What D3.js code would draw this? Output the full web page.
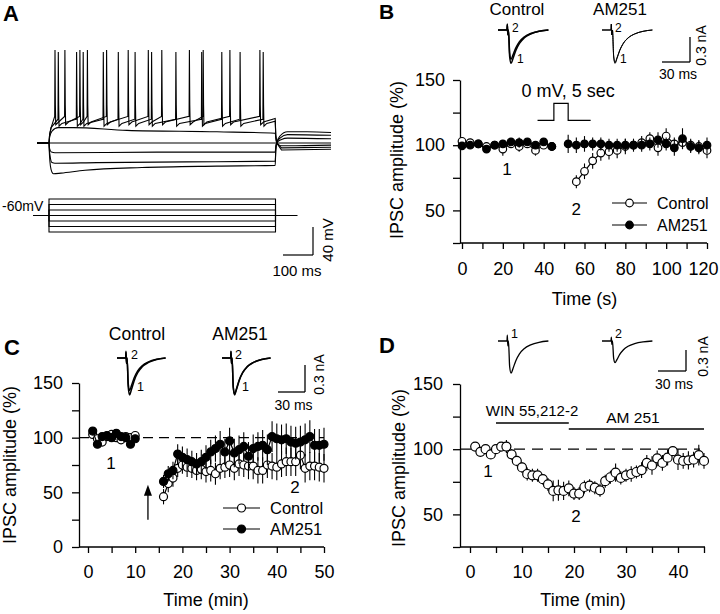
<!DOCTYPE html>
<html>
<head>
<meta charset="utf-8">
<script src="https://cdn.jsdelivr.net/npm/d3@7"></script>
<style>
body { margin: 0; background: #fff; }
svg { display: block; font-family: Arial, "Liberation Sans", sans-serif; }
</style>
</head>
<body>
<svg id="fig" width="720" height="614"></svg>
<script>
// ---- panel A: current-clamp sweeps (time ms, membrane mV key points) ----
var aHyper3 = [[0,-60],[40,-60],[41,-72],[43,-86],[47,-98],[55,-104],[80,-103],[160,-99],[350,-95],[600,-93],[794,-92],[796,-70],[799,-60],[810,-50],[835,-44],[900,-44],[980,-45]];
var aHyper2 = [[0,-60],[40,-60],[41,-68],[44,-80],[50,-88],[60,-89],[200,-88],[500,-87],[794,-86],[796,-70],[799,-60],[810,-53],[835,-48],[980,-49]];
var aHyper1 = [[0,-60],[40,-60],[42,-68],[48,-73],[60,-74],[400,-73],[794,-73],[796,-65],[799,-60],[815,-55],[835,-53],[980,-54]];
var aRest = [[0,-60],[980,-60]];
var aDepol = [[0,-60],[40,-60],[42,-52],[50,-43],[70,-38],[120,-38],[300,-42],[600,-44],[794,-46],[796,-52],[799,-60],[815,-64],[835,-64],[980,-63]];
var aSpikesHigh = [60, 93, 143, 168, 232, 304, 371, 416, 508, 554, 643, 743];
var aSpikesLow = [71, 132, 154, 221, 271, 327, 382, 463, 549, 616, 677, 754];
var aCmdLevels = [-3, -2, -1, 0, 1, 2, 3];
var aStep = [40, 795];

// ---- panel B: depolarization-induced suppression (time s, % of baseline) ----
var bTimeLeft = [0, 4, 8, 12, 16, 20, 24, 28, 32, 36, 40, 44];
var bCtrlLeft = [103, 102, 101, 99, 100, 97, 101, 99, 101, 96, 100, 99];
var bCtrlLeftErr = [3, 3, 3, 3, 3, 5, 3, 4, 3, 4, 3, 3];
var bAmLeft = [99.5, 100, 101, 97, 100, 101, 102.5, 102, 102.5, 100, 102.5, 99];
var bAmLeftErr = [2, 2, 2, 3, 2, 3, 3, 4, 3, 2, 3, 2];
var bTimeAm = [52, 56, 60, 64, 68, 72, 76, 80, 84, 88, 92, 96, 100, 104, 108, 112, 116, 120];
var bAmRight = [101, 100, 101, 101, 101, 100, 100, 100, 100, 100, 101, 104, 101, 98, 105, 99, 98, 100];
var bAmRightErr = [7, 6, 6, 5, 5, 5, 5, 5, 4, 5, 5, 6, 5, 6, 8, 5, 5, 6];
var bTimeCtrl = [56, 60, 64, 68, 72, 76, 80, 84, 88, 92, 96, 100, 104, 108, 112, 116, 120];
var bCtrlRight = [72, 80, 88, 94, 95, 96, 99, 100, 102, 105, 98, 107, 101, 102, 100, 99, 96];
var bCtrlRightErr = [5, 6, 6, 6, 6, 6, 6, 5, 5, 5, 6, 6, 5, 5, 5, 5, 6];
var bStepPulse = [[37, 119], [45, 119], [45, 132], [52, 132], [52, 119], [63, 119]];

// ---- panel C: long-term (time min, %) ----
var cTimeLeft = [1, 2, 3, 4, 5, 6, 7, 8, 9, 10];
var cCtrlLeft = [103, 99, 96, 101, 103, 100, 98, 101, 100, 102];
var cAmLeft = [106, 94, 101, 102, 100, 104, 101, 100, 94, 99];
var cLeftErr = [3, 3, 3, 3, 3, 3, 3, 3, 3, 3];
var cTimeRight = [16, 17, 18, 19, 20, 21, 22, 23, 24, 25, 26, 27, 28, 29, 30, 31, 32, 33, 34, 35, 36, 37, 38, 39, 40, 41, 42, 43, 44, 45, 46, 47, 48, 49, 50];
var cCtrlRight = [46, 58, 63, 72, 75, 73, 72, 70, 71, 69, 70, 67, 72, 73, 75, 72, 76, 75, 74, 74, 70, 70, 75, 74, 73, 76, 78, 78, 78, 84, 72, 74, 74, 73, 72];
var cCtrlRightErr = [7, 8, 8, 8, 8, 9, 9, 9, 9, 10, 10, 10, 10, 10, 11, 11, 11, 11, 12, 12, 12, 12, 12, 12, 12, 12, 13, 13, 13, 13, 13, 13, 13, 13, 13];
var cAmRight = [60, 67, 70, 85, 82, 80, 78, 76, 78, 82, 87, 90, 94, 87, 97, 86, 89, 92, 83, 90, 92, 93, 89, 101, 99, 98, 99, 96, 95, 96, 98, 101, 93, 93, 94];
var cAmRightErr = [6, 7, 8, 9, 10, 10, 10, 10, 11, 11, 11, 12, 12, 12, 12, 13, 13, 13, 13, 13, 13, 14, 14, 14, 14, 14, 14, 15, 15, 15, 15, 15, 15, 15, 15];
var cArrow = [12.7, 25, 57];

// ---- panel D: WIN then AM 251 (time min, %) ----
var dTime = [1, 2, 3, 4, 5, 6, 7, 8, 9, 10, 11, 12, 13, 14, 15, 16, 17, 18, 19, 20, 21, 22, 23, 24, 25, 26, 27, 28, 29, 30, 31, 32, 33, 34, 35, 36, 37, 38, 39, 40, 41, 42, 43, 44, 45];
var dVal = [102, 98, 100, 96, 100, 102, 102, 96, 91, 86, 81, 80, 80, 77, 73, 68, 68.5, 68, 70, 66, 66, 71, 72, 70.5, 68.5, 75.5, 78.5, 82, 78, 80, 81, 82.5, 84, 89.5, 87.5, 93, 89.5, 93.5, 98.5, 92, 91, 91.5, 92, 95.5, 91];
var dErr = [2, 2, 2, 2, 2, 3, 5, 4, 4, 4, 5, 5, 5, 4, 5, 8, 8, 7, 6, 5, 5, 5, 5, 5, 5, 5, 5, 7, 5, 5, 6, 5, 6, 6, 7, 6, 6, 6, 4, 8, 6, 7, 6, 8, 6];
var dDrugs = [{label: 'WIN 55,212-2', from: 5, to: 19, level: 120}, {label: 'AM 251', from: 19, to: 45, level: 115.4}];

// ---- sample IPSC traces (ms, normalised current) ----
var ipscTime = [0, 9.6, 10, 10.5, 11.2, 12.5, 14, 16, 19, 23, 28, 35, 44, 54];
var ipscShape = [0, 0, 0.18, -0.15, 0, -0.8, -1.0, -0.86, -0.62, -0.4, -0.24, -0.12, -0.04, 0];
var bTraceAmp = {ctrl: [0.40, 0.35], am: [0.40, 0.39]};
var cTraceAmp = {ctrl: [0.41, 0.36], am: [0.41, 0.40]};
var dTraceAmp = [0.46, 0.31];

var svg = d3.select('#fig');

function txt(x, y, s, size, anchor, weight) {
    return svg.append('text').attr('x', x).attr('y', y)
        .attr('text-anchor', anchor || 'start')
        .style('font-size', size + 'px')
        .style('font-weight', weight || 'normal')
        .text(s);
}

function vtxt(x, y, s, size) {
    return svg.append('text')
        .attr('transform', 'translate(' + x + ',' + y + ') rotate(-90)')
        .attr('text-anchor', 'middle')
        .style('font-size', size + 'px')
        .text(s);
}

function line(x1, y1, x2, y2, w) {
    return svg.append('line').attr('x1', x1).attr('y1', y1).attr('x2', x2).attr('y2', y2)
        .attr('stroke', '#000').attr('stroke-width', w || 1.3);
}

//axes: y on the left at axisX, x along the bottom
function drawAxes(x, y, o) {
    var g = svg.append('g');
    var yb = y.range()[0];
    g.append('g').attr('transform', 'translate(' + o.axisX + ',0)')
        .call(d3.axisLeft(y).tickValues(o.yTicks).tickSize(7).tickSizeOuter(0).tickPadding(o.yPad)
            .tickFormat(function (d) { return o.yLabels.indexOf(d) >= 0 ? d : ''; }));
    var xg = g.append('g').attr('transform', 'translate(0,' + yb + ')')
        .call(d3.axisBottom(x).tickValues(o.xTicks).tickSize(6).tickSizeOuter(0).tickPadding(o.xPad)
            .tickFormat(function (d) { return o.xLabels.indexOf(d) >= 0 ? d : ''; }));
    xg.select('.domain').remove();
    //keep the last label inside the frame
    if (o.lastShift) {
        xg.selectAll('.tick text').filter(function (d) { return d === o.xLabels[o.xLabels.length - 1]; })
            .attr('dx', -o.lastShift);
    }
    g.append('line').attr('x1', o.axisX).attr('x2', o.xEnd).attr('y1', yb).attr('y2', yb)
        .attr('stroke', '#000').attr('stroke-width', 1.3);
    g.selectAll('.tick line').attr('stroke-width', 1.3);
    g.selectAll('.domain').attr('stroke-width', 1.3);
    g.selectAll('text').attr('font-size', 18).attr('font-family', null).attr('fill', '#000');
    return g;
}

function drawSeries(x, y, t, v, e, filled, r) {
    var g = svg.append('g');
    var pts = t.map(function (d, i) { return {t: d, v: v[i], e: e[i]}; });
    g.append('path').datum(pts)
        .attr('d', d3.line().x(function (d) { return x(d.t); }).y(function (d) { return y(d.v); }))
        .attr('fill', 'none').attr('stroke', '#000').attr('stroke-width', 1.2);
    g.selectAll('.eb').data(pts).enter().append('line')
        .attr('x1', function (d) { return x(d.t); }).attr('x2', function (d) { return x(d.t); })
        .attr('y1', function (d) { return y(d.v - d.e); }).attr('y2', function (d) { return y(d.v + d.e); })
        .attr('stroke', '#000').attr('stroke-width', 1.1);
    g.selectAll('circle').data(pts).enter().append('circle')
        .attr('cx', function (d) { return x(d.t); }).attr('cy', function (d) { return y(d.v); })
        .attr('r', r)
        .attr('fill', filled ? '#000' : '#fff')
        .attr('stroke', '#000').attr('stroke-width', 1.2);
}

function legendRow(x1, x2, y, filled, label, r, size) {
    line(x1, y, x2, y, 1.2);
    svg.append('circle').attr('cx', (x1 + x2) / 2).attr('cy', y).attr('r', r)
        .attr('fill', filled ? '#000' : '#fff').attr('stroke', '#000').attr('stroke-width', 1.2);
    txt(x2 + 10, y + 6, label, size);
}

//IPSC trace from the normalised shape, origin at baseline start
function drawTrace(ox, oy, pxMs, pxNa, amp, w) {
    var pts = ipscTime.map(function (t, i) { return [ox + t * pxMs, oy - amp * ipscShape[i] * pxNa]; });
    svg.append('path').attr('d', d3.line().curve(d3.curveMonotoneX)(pts))
        .attr('fill', 'none').attr('stroke', '#000').attr('stroke-width', w);
}

function scaleBar(cx, by, lenX, lenY, xLabel, yLabel, xLabY, yLabX) {
    line(cx, by - lenY, cx, by, 1.3);
    line(cx - lenX, by, cx, by, 1.3);
    txt(cx - lenX / 2 + 2, xLabY, xLabel, 14, 'middle');
    vtxt(yLabX, by - lenY / 2 - 4, yLabel, 14);
}

/****
// Panel A
****/
var aX = d3.scaleLinear().domain([0, 980]).range([37, 331]);
var aY = d3.scaleLinear().domain([-60, 40]).range([143, 73]);
var aCmdY = d3.scaleLinear().domain([-3, 3]).range([232, 199]);
var aLine = d3.line().x(function (d) { return aX(d[0]); }).y(function (d) { return aY(d[1]); });

function spikeSweep(times, peak, ahp, pre, after) {
    var pts = [[0, -60], [40, -60], [42, -48], [47, -38]];
    times.forEach(function (t) {
        pts.push([t - 1, pre], [t, peak], [t + 1.2, -5], [t + 2.5, ahp], [t + 12, ahp + 4]);
    });
    pts.push([aStep[1] - 1, pre - 3], [aStep[1] + 1, -50], [aStep[1] + 4, -60], [aStep[1] + 20, after], [980, after + 1]);
    return pts;
}

[aHyper3, aHyper2, aHyper1, aRest, aDepol].forEach(function (s) {
    svg.append('path').attr('d', aLine.curve(d3.curveMonotoneX)(s))
        .attr('fill', 'none').attr('stroke', '#000').attr('stroke-width', 1.1);
});
[spikeSweep(aSpikesLow, 70, -36, -26, -67), spikeSweep(aSpikesHigh, 73, -34, -22, -70)].forEach(function (s) {
    svg.append('path').attr('d', aLine.curve(d3.curveLinear)(s))
        .attr('fill', 'none').attr('stroke', '#000').attr('stroke-width', 1.1);
});

//command steps
aCmdLevels.forEach(function (l) {
    var pts = [[-13, 0], [aStep[0], 0], [aStep[0], l], [aStep[1], l], [aStep[1], 0], [867, 0]];
    svg.append('path').attr('d', d3.line().x(function (d) { return aX(d[0]); }).y(function (d) { return aCmdY(d[1]); })(pts))
        .attr('fill', 'none').attr('stroke', '#000').attr('stroke-width', 1.1);
});
txt(2, 211, '-60mV', 14);
txt(3, 21, 'A', 22, 'start', 'bold');
//scale bar 100 ms / 40 mV
(function () {
    var lx = aX(100) - aX(0), ly = aY(-60) - aY(-20);
    line(313, 255 - ly, 313, 255, 1.2);
    line(313 - lx, 255, 313, 255, 1.2);
    txt(297, 276, '100 ms', 15, 'middle');
    vtxt(333, 240, '40 mV', 15);
})();

/****
// Panel B
****/
var bX = d3.scaleLinear().domain([0, 120]).range([462, 707]);
var bY = d3.scaleLinear().domain([25, 150]).range([243, 80]);
drawAxes(bX, bY, {
    axisX: 460, xEnd: 707, yPad: 8, xPad: 13, lastShift: 4,
    yTicks: [25, 50, 75, 100, 125, 150], yLabels: [50, 100, 150],
    xTicks: [0, 10, 20, 30, 40, 50, 60, 70, 80, 90, 100, 110, 120], xLabels: [0, 20, 40, 60, 80, 100, 120]
});
drawSeries(bX, bY, bTimeLeft, bCtrlLeft, bCtrlLeftErr, false, 3.8);
drawSeries(bX, bY, bTimeCtrl, bCtrlRight, bCtrlRightErr, false, 3.8);
drawSeries(bX, bY, bTimeLeft, bAmLeft, bAmLeftErr, true, 3.8);
drawSeries(bX, bY, bTimeAm, bAmRight, bAmRightErr, true, 3.8);
svg.append('path').attr('d', d3.line().x(function (d) { return bX(d[0]); }).y(function (d) { return bY(d[1]); })(bStepPulse))
    .attr('fill', 'none').attr('stroke', '#000').attr('stroke-width', 1.2);
txt(bX(52), 97, '0 mV, 5 sec', 18, 'middle');
txt(bX(22), 175, '1', 17, 'middle');
txt(bX(56), 215, '2', 17, 'middle');
legendRow(612, 647, 203, false, 'Control', 3.8, 16);
legendRow(612, 647, 225, true, 'AM251', 3.8, 16);
vtxt(403, 160, 'IPSC amplitude (%)', 18);
txt(bX(60), 305, 'Time (s)', 18, 'middle');
txt(379, 19, 'B', 21, 'start', 'bold');
txt(517, 15, 'Control', 17, 'middle');
txt(620, 15, 'AM251', 17, 'middle');
drawTrace(498, 30, 28 / 30, 25 / 0.3, bTraceAmp.ctrl[0], 1.5);
drawTrace(498, 30, 28 / 30, 25 / 0.3, bTraceAmp.ctrl[1], 1.5);
drawTrace(602, 30, 28 / 30, 25 / 0.3, bTraceAmp.am[0], 1);
drawTrace(602, 30, 28 / 30, 25 / 0.3, bTraceAmp.am[1], 1);
txt(512, 32, '2', 12);
txt(517, 63, '1', 12);
txt(615, 32, '2', 12);
txt(620, 63, '1', 12);
scaleBar(690, 62, 28, 25, '30 ms', '0.3 nA', 79, 706);

/****
// Panel C
****/
var cX = d3.scaleLinear().domain([0, 50]).range([88, 324]);
var cY = d3.scaleLinear().domain([0, 150]).range([547, 383]);
drawAxes(cX, cY, {
    axisX: 79, xEnd: 324, yPad: 9, xPad: 12,
    yTicks: [0, 25, 50, 75, 100, 125, 150], yLabels: [0, 50, 100, 150],
    xTicks: [0, 5, 10, 15, 20, 25, 30, 35, 40, 45, 50], xLabels: [0, 10, 20, 30, 40, 50]
});
line(79, cY(100), 324, cY(100), 1.2).attr('stroke-dasharray', '10,6');
drawSeries(cX, cY, cTimeLeft, cCtrlLeft, cLeftErr, false, 4);
drawSeries(cX, cY, cTimeRight, cCtrlRight, cCtrlRightErr, false, 4);
drawSeries(cX, cY, cTimeLeft, cAmLeft, cLeftErr, true, 4);
drawSeries(cX, cY, cTimeRight, cAmRight, cAmRightErr, true, 4);
//arrow
line(cX(cArrow[0]), cY(cArrow[1]), cX(cArrow[0]), cY(cArrow[2]) + 6, 1.3);
svg.append('path')
    .attr('d', 'M' + cX(cArrow[0]) + ',' + cY(cArrow[2]) + ' l-4,11 l8,0 z')
    .attr('fill', '#000');
txt(111, 469, '1', 17, 'middle');
txt(295, 493, '2', 17, 'middle');
legendRow(223, 260, 508, false, 'Control', 4, 16.5);
legendRow(223, 260, 529, true, 'AM251', 4, 16.5);
vtxt(16, 465, 'IPSC amplitude (%)', 18);
txt(cX(25), 606, 'Time (min)', 18, 'middle');
txt(4, 355, 'C', 22, 'start', 'bold');
txt(137, 340, 'Control', 17.5, 'middle');
txt(240, 340, 'AM251', 17.5, 'middle');
drawTrace(117, 358, 27 / 30, 27 / 0.3, cTraceAmp.ctrl[0], 1.5);
drawTrace(117, 358, 27 / 30, 27 / 0.3, cTraceAmp.ctrl[1], 1.5);
drawTrace(222, 358, 27 / 30, 27 / 0.3, cTraceAmp.am[0], 1.5);
drawTrace(222, 358, 27 / 30, 27 / 0.3, cTraceAmp.am[1], 1.5);
txt(131, 359, '2', 12.5);
txt(137, 391, '1', 12.5);
txt(235, 359, '2', 12.5);
txt(242, 391, '1', 12.5);
scaleBar(305, 392, 27, 27, '30 ms', '0.3 nA', 410, 324);

/****
// Panel D
****/
var dX = d3.scaleLinear().domain([0, 45]).range([470, 704]);
var dY = d3.scaleLinear().domain([25, 150]).range([547, 384]);
drawAxes(dX, dY, {
    axisX: 460, xEnd: 705, yPad: 10, xPad: 12,
    yTicks: [25, 50, 75, 100, 125, 150], yLabels: [50, 100, 150],
    xTicks: [0, 5, 10, 15, 20, 25, 30, 35, 40, 45], xLabels: [0, 10, 20, 30, 40]
});
line(460, dY(100), 700, dY(100), 1.2).attr('stroke-dasharray', '11,7');
dDrugs.forEach(function (d) {
    line(dX(d.from), dY(d.level), dX(d.to), dY(d.level), 1.5);
});
txt(532, 416, dDrugs[0].label, 15, 'middle');
txt(633, 423, dDrugs[1].label, 15.5, 'middle');
drawSeries(dX, dY, dTime, dVal, dErr, false, 4.5);
txt(488, 477, '1', 17, 'middle');
txt(576, 522, '2', 17, 'middle');
vtxt(405, 468, 'IPSC amplitude (%)', 18);
txt(583, 606, 'Time (min)', 18, 'middle');
txt(379, 353, 'D', 22, 'start', 'bold');
drawTrace(498, 341, 28 / 30, 21 / 0.3, dTraceAmp[0], 1.3);
drawTrace(602, 341, 28 / 30, 21 / 0.3, dTraceAmp[1], 1.3);
txt(511, 338, '1', 12.5);
txt(615, 338, '2', 12.5);
scaleBar(686, 371, 28, 21, '30 ms', '0.3 nA', 389, 708);
</script>
</body>
</html>
